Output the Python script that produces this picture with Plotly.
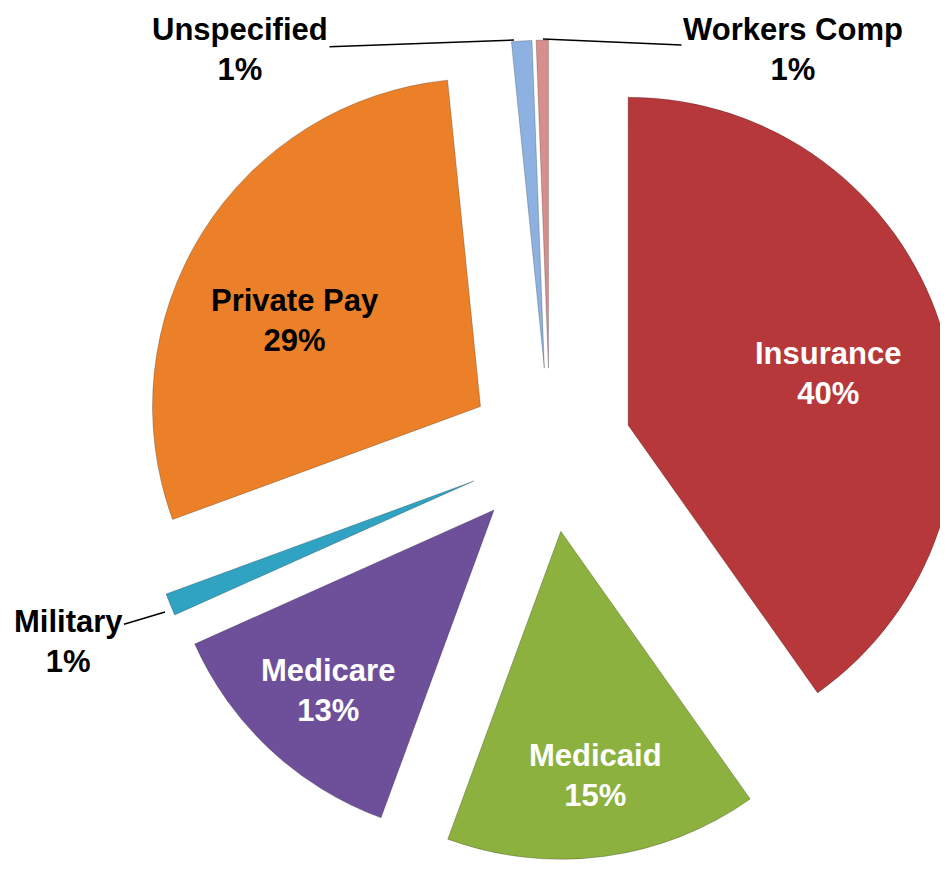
import plotly.graph_objects as go

# ---- Data (first slice starts at 12 o'clock, clockwise) ----
categories = ["Insurance", "Medicaid", "Medicare", "Military", "Private Pay", "Unspecified", "Workers Comp"]
values = [40.2, 15.4, 12.7, 1.1, 29.0, 1.0, 0.6]
pct_labels = ["40%", "15%", "13%", "1%", "29%", "1%", "1%"]

# ---- Styles ----
colors = ["#B7383A", "#8CB13F", "#6E4F9A", "#31A3C2", "#EB8028", "#8DB2E1", "#D68F8C"]
label_colors = ["white", "white", "white", "black", "black", "black", "black"]

# ---- Layout helpers ----
FW, FH = 1000, 853       # page body has an 8px margin; right side gets cropped like the reference
OFF = 8
FONT = "Liberation Sans, Arial, sans-serif"
FS = 31

def paper(sx, sy):
    return (sx - OFF) / FW, 1 - (sy - OFF) / FH

# pie geometry (screen px): centre, radius, pull
CX, CY, R, PULL = 550, 450, 328, 0.25
half = R * (1 + PULL)
x0, y1 = paper(CX - half, CY - half)
x1, y0 = paper(CX + half, CY + half)
y0, y1 = max(0.0, y0), min(1.0, y1)

fig = go.Figure(go.Pie(
    labels=categories,
    values=values,
    textinfo="none",
    marker=dict(colors=colors, line=dict(color="rgba(0,0,0,0.22)", width=1)),
    sort=False,
    direction="clockwise",
    rotation=0,
    pull=PULL,
    hoverinfo="label+percent",
    domain=dict(x=[x0, x1], y=[y0, y1]),
    showlegend=False,
))

# label placement (screen px): inside labels -> text centre; outside -> (leader-line end, text centre)
inside_pos = {0: (828, 373), 1: (595, 775), 2: (328, 690), 4: (295, 320)}
outside_pos = {5: ((514, 40), (240, 50)), 6: ((543, 39), (793, 50)), 3: ((165, 612), (68, 641))}

annotations = []
for i, (sx, sy) in inside_pos.items():
    px, py = paper(sx, sy)
    annotations.append(dict(
        x=px, y=py, xref="paper", yref="paper", showarrow=False,
        xanchor="center", yanchor="middle",
        text="<b>%s<br>%s</b>" % (categories[i], pct_labels[i]),
        font=dict(family=FONT, size=FS, color=label_colors[i]), align="center",
    ))
for i, (head, center) in outside_pos.items():
    hx, hy = paper(*head)
    annotations.append(dict(
        x=hx, y=hy, xref="paper", yref="paper",
        text="<b>%s<br>%s</b>" % (categories[i], pct_labels[i]),
        showarrow=True, arrowhead=0, arrowwidth=1.5, arrowcolor="black",
        ax=center[0] - head[0], ay=center[1] - head[1],
        font=dict(family=FONT, size=FS, color=label_colors[i]), align="center",
    ))

fig.update_layout(
    width=FW, height=FH,
    margin=dict(l=0, r=0, t=0, b=0),
    paper_bgcolor="white",
    plot_bgcolor="white",
    annotations=annotations,
)

fig.write_html("out.html")
